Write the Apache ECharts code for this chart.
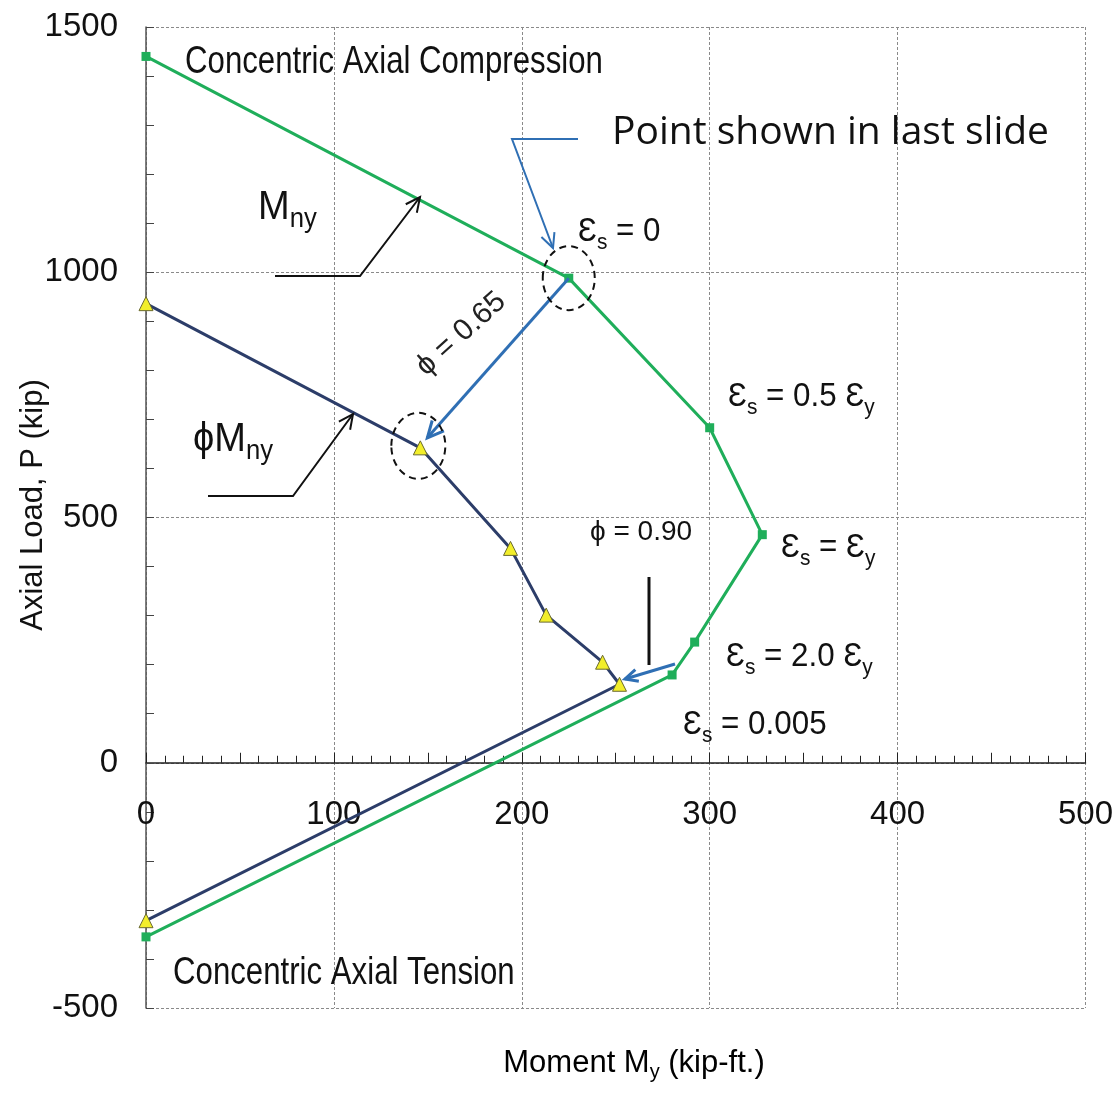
<!DOCTYPE html>
<html><head><meta charset="utf-8">
<script src="https://cdn.jsdelivr.net/npm/echarts@6/dist/echarts.min.js"></script>
<style>html,body{margin:0;padding:0;background:#fff}#c{width:1116px;height:1094px}</style>
</head><body><div id="c"></div>
<script>
// ---- data ----
const momentNominal = [0, 225, 300, 328, 292, 280, 0];      // Mny (kip-ft)
const loadNominal   = [1440, 988, 683, 465, 246, 179, -355]; // P (kip)
const momentDesign  = [0, 146, 194, 213, 243, 252, 0];       // phi*Mny
const loadDesign    = [936, 642, 437, 301, 205, 160, -322];
const xTickValues = [0, 100, 200, 300, 400, 500];
const yTickValues = [-500, 0, 500, 1000, 1500];

const FONT = '"Liberation Sans",Arial,sans-serif';
const GREEN = '#1fae5a', NAVY = '#2c3d69', BLUE = '#2f6fb4';

const nominal = momentNominal.map((m, i) => [m, loadNominal[i]]);
const design = momentDesign.map((m, i) => [m, loadDesign[i]]);

const GRID = {left: 146, top: 27, width: 944, height: 981};
const yMin = yTickValues[0], yMax = yTickValues[yTickValues.length - 1];
const zeroOffset = -GRID.height * (0 - yMin) / (yMax - yMin); // move x axis up to P = 0

const chart = echarts.init(document.getElementById('c'));
const gridLine = {show: true, lineStyle: {color: '#8a8a8a', type: [3, 2], width: 1}};
chart.setOption({
  animation: false,
  backgroundColor: '#fff',
  grid: GRID,
  xAxis: [{
    type: 'value', min: xTickValues[0], max: xTickValues[xTickValues.length - 1], interval: 100,
    position: 'bottom', offset: zeroOffset,
    axisLine: {show: true, onZero: false, lineStyle: {color: '#222', width: 1.5}},
    axisTick: {show: true, inside: true, length: 9, lineStyle: {color: '#222'}},
    minorTick: {show: true, splitNumber: 10, length: 7, lineStyle: {color: '#222'}},
    axisLabel: {margin: 36, fontSize: 33, color: '#111', fontFamily: FONT, formatter: v => String(v)},
    splitLine: gridLine
  }, {
    type: 'value', min: xTickValues[0], max: xTickValues[xTickValues.length - 1], interval: 50,
    position: 'bottom', offset: zeroOffset,
    axisLine: {show: false, onZero: false},
    axisTick: {show: true, inside: true, length: 10, lineStyle: {color: '#222'}},
    axisLabel: {show: false}, splitLine: {show: false}
  }],
  yAxis: {
    type: 'value', min: yMin, max: yMax, interval: 500,
    axisLine: {show: true, onZero: false, lineStyle: {color: '#555', width: 1.5}},
    axisTick: {show: true, inside: true, length: 8, lineStyle: {color: '#444'}},
    minorTick: {show: true, splitNumber: 5, length: 8, lineStyle: {color: '#444'}},
    axisLabel: {margin: 28, fontSize: 33, color: '#111', fontFamily: FONT, formatter: v => String(v)},
    splitLine: gridLine
  },
  series: [{
    type: 'line', data: nominal, clip: false, xAxisIndex: 0,
    symbol: 'rect', symbolSize: 9,
    lineStyle: {color: GREEN, width: 3}, itemStyle: {color: GREEN}, z: 3
  }, {
    type: 'line', data: design, clip: false, xAxisIndex: 0,
    symbol: 'triangle', symbolSize: 14,
    lineStyle: {color: NAVY, width: 3},
    itemStyle: {color: '#f2ee2a', borderColor: '#6a6a30', borderWidth: 1}, z: 4
  }]
});

// ---- annotations ----
function head(x1, y1, x2, y2, color, w, len) {
  const a = Math.atan2(y2 - y1, x2 - x1), s = 0.45, L = len || 16;
  return {type: 'polyline', shape: {points: [
    [x2 - L * Math.cos(a - s), y2 - L * Math.sin(a - s)], [x2, y2],
    [x2 - L * Math.cos(a + s), y2 - L * Math.sin(a + s)]]},
    style: {stroke: color, lineWidth: w, fill: null}, z: 20};
}
function arrow(pts, color, w, len) {
  const n = pts.length;
  return [{type: 'polyline', shape: {points: pts}, style: {stroke: color, lineWidth: w, fill: null}, z: 20},
    head(pts[n - 2][0], pts[n - 2][1], pts[n - 1][0], pts[n - 1][1], color, w, len)];
}
function txt(x, y, text, rich, sx) {
  return {type: 'text', x: x, y: y, z: 30, scaleX: sx || 1,
    style: {text: text, rich: rich, textAlign: 'left', textVerticalAlign: 'middle', fill: '#111'}};
}
const eps = {
  m: {fontSize: 33, fontFamily: FONT, color: '#111', lineHeight: 44, verticalAlign: 'middle'},
  s: {fontSize: 22, fontFamily: FONT, color: '#111', lineHeight: 22, verticalAlign: 'bottom'}
};
const big = {
  m: {fontSize: 40, fontFamily: FONT, color: '#111', lineHeight: 50, verticalAlign: 'middle'},
  s: {fontSize: 27, fontFamily: FONT, color: '#111', lineHeight: 26, verticalAlign: 'bottom'}
};
const plain = {m: {fontSize: 39, fontFamily: FONT, color: '#111'}};

const pA = chart.convertToPixel({xAxisIndex: 0, yAxisIndex: 0}, nominal[1]);
const pB = chart.convertToPixel({xAxisIndex: 0, yAxisIndex: 0}, design[1]);

const g = [];
g.push(txt(185, 62, '{m|Concentric Axial Compression}', plain, 0.8));
g.push(txt(173, 973, '{m|Concentric Axial Tension}', plain, 0.8));
g.push(txt(612, 133, '{m|Point shown in last slide}', {m: {fontSize: 39, fontFamily: '"Open Sans",' + FONT, color: '#3a76b6'}}));
g.push(txt(578, 232, '{m|Ɛ}{s|s}{m| = 0}', eps, 0.95));
g.push(txt(728, 397, '{m|Ɛ}{s|s}{m| = 0.5 Ɛ}{s|y}', eps, 0.95));
g.push(txt(781, 548, '{m|Ɛ}{s|s}{m| = Ɛ}{s|y}', eps, 0.95));
g.push(txt(726, 657, '{m|Ɛ}{s|s}{m| = 2.0 Ɛ}{s|y}', eps, 0.95));
g.push(txt(683, 725, '{m|Ɛ}{s|s}{m| = 0.005}', eps, 0.95));
g.push(txt(590, 532, '{p|ϕ}{m| = 0.90}', {m: {fontSize: 28, fontFamily: FONT, color: '#555'}, p: {fontSize: 28, fontFamily: FONT, color: '#4a6a90'}}));
g.push(txt(258, 208, '{m|M}{s|ny}', big, 0.95));
g.push(txt(193, 440, '{m|ϕM}{s|ny}', big, 0.95));
g.push({type: 'text', x: 461, y: 334, rotation: 42 * Math.PI / 180, z: 30,
  style: {text: 'ϕ = 0.65', fontSize: 30, fontFamily: FONT, fill: '#222', textAlign: 'center', textVerticalAlign: 'middle'}});
// axis titles
g.push({type: 'text', x: 33, y: 505, rotation: Math.PI / 2, z: 30,
  style: {text: 'Axial Load, P (kip)', fontSize: 31, fontFamily: FONT, fill: '#111', textAlign: 'center', textVerticalAlign: 'middle'}});
g.push({type: 'text', x: 634, y: 1063, z: 30, style: {text: '{m|Moment M}{s|y}{m| (kip-ft.)}', textAlign: 'center', textVerticalAlign: 'middle',
  rich: {m: {fontSize: 31, fontFamily: FONT, color: '#111', lineHeight: 38, verticalAlign: 'middle'},
         s: {fontSize: 20, fontFamily: FONT, color: '#111', lineHeight: 18, verticalAlign: 'bottom'}}}});
// arrows
g.push(...arrow([[275, 276], [360, 276], [420, 197]], '#111', 2, 16));
g.push(...arrow([[208, 496], [293, 496], [353, 414]], '#111', 2, 16));
g.push(...arrow([[578, 139], [512, 139], [553, 248]], BLUE, 2, 16));
g.push(...arrow([[pA[0], pA[1]], [pB[0] + 7, pB[1] - 10]], BLUE, 3, 18));
g.push({type: 'line', shape: {x1: 649, y1: 577, x2: 649, y2: 665}, style: {stroke: '#111', lineWidth: 3}, z: 20});
g.push(...arrow([[675, 664], [625, 679]], BLUE, 3, 14));
// dashed ellipses
g.push({type: 'ellipse', shape: {cx: pA[0], cy: pA[1], rx: 26, ry: 32}, style: {stroke: '#111', lineWidth: 2, lineDash: [7, 5], fill: null}, z: 20});
g.push({type: 'ellipse', shape: {cx: pB[0] - 2, cy: pB[1] - 2, rx: 27, ry: 33}, style: {stroke: '#111', lineWidth: 2, lineDash: [7, 5], fill: null}, z: 20});

chart.setOption({graphic: {elements: g}});
</script></body></html>
